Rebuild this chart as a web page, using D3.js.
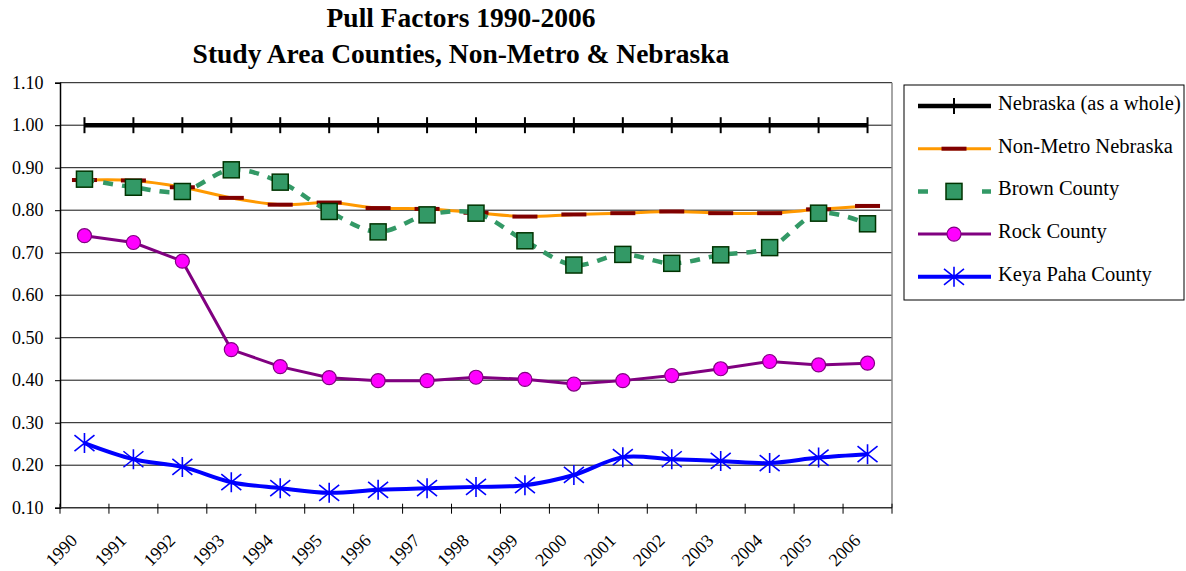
<!DOCTYPE html>
<html>
<head>
<meta charset="utf-8">
<script src="https://cdn.jsdelivr.net/npm/d3@7"></script>
<style>
  body { margin: 0; background: #fff; }
  svg text { font-family: 'Liberation Serif', 'Times New Roman', serif; fill: #000; }
</style>
</head>
<body>
<script>
// data
var years = ["1990","1991","1992","1993","1994","1995","1996","1997","1998",
             "1999","2000","2001","2002","2003","2004","2005","2006"];
var nebraska = [1,1,1,1,1,1,1,1,1,1,1,1,1,1,1,1,1];
var nonMetro = [0.871,0.870,0.854,0.829,0.813,0.818,0.805,0.803,0.794,0.785,0.790,0.793,0.797,0.793,0.793,0.802,0.810];
var brown    = [0.873,0.854,0.844,0.895,0.866,0.797,0.749,0.789,0.793,0.728,0.671,0.696,0.675,0.695,0.712,0.793,0.768];
var rock     = [0.740,0.724,0.680,0.472,0.432,0.406,0.399,0.399,0.407,0.402,0.391,0.399,0.411,0.427,0.444,0.436,0.440];
var keyaPaha = [0.252,0.214,0.196,0.160,0.146,0.135,0.142,0.146,0.149,0.153,0.177,0.219,0.214,0.210,0.205,0.218,0.226];
var yTicks = [0.1,0.2,0.3,0.4,0.5,0.6,0.7,0.8,0.9,1.0,1.1];
var titleLines = ["Pull Factors 1990-2006", "Study Area Counties, Non-Metro & Nebraska"];

var series = [
  {name: "Nebraska (as a whole)", values: nebraska, color: "#000000", width: 4.5, marker: "bar", curve: false},
  {name: "Non-Metro Nebraska", values: nonMetro, color: "#FF9900", width: 3, marker: "dash", curve: true},
  {name: "Brown County", values: brown, color: "#339966", width: 4.5, marker: "square", curve: true, dash: "10,9"},
  {name: "Rock County", values: rock, color: "#800080", width: 3, marker: "circle", curve: false},
  {name: "Keya Paha County", values: keyaPaha, color: "#0000FF", width: 4, marker: "star", curve: true}
];

var W = 1186, H = 571;
var plot = {left: 60, right: 892, top: 82.7, bottom: 507.7};

var svg = d3.select("body").append("svg")
  .attr("width", W)
  .attr("height", H);

var x = d3.scaleBand().domain(years).range([plot.left, plot.right]);
var y = d3.scaleLinear().domain([0.1, 1.1]).range([plot.bottom, plot.top]);
var cx = function(i) { return x(years[i]) + x.bandwidth() / 2; };

// title
svg.selectAll(".title")
  .data(titleLines)
  .enter().append("text")
  .attr("class", "title")
  .attr("x", 461)
  .attr("y", function(d, i) { return 27 + i * 36; })
  .attr("text-anchor", "middle")
  .style("font-size", "27.5px")
  .style("font-weight", "bold")
  .text(function(d) { return d; });

// gridlines
svg.append("g")
  .selectAll("line")
  .data(yTicks.filter(function(d) { return d > 0.1; }))
  .enter().append("line")
  .attr("x1", plot.left).attr("x2", plot.right)
  .attr("y1", function(d) { return y(d); })
  .attr("y2", function(d) { return y(d); })
  .attr("stroke", "#111")
  .attr("stroke-width", 1);

// right border of plot area
svg.append("line")
  .attr("x1", plot.right).attr("x2", plot.right)
  .attr("y1", plot.top).attr("y2", plot.bottom)
  .attr("stroke", "#888").attr("stroke-width", 1.5);

// y axis
var yAxis = d3.axisLeft(y)
  .tickValues(yTicks)
  .tickFormat(d3.format(".2f"))
  .tickSize(5)
  .tickPadding(11.5);
var gy = svg.append("g")
  .attr("transform", "translate(" + plot.left + ",0)")
  .call(yAxis);
gy.select(".domain").attr("stroke", "#000").attr("stroke-width", 1.5);
gy.selectAll(".tick line").attr("stroke", "#000");
gy.selectAll(".tick text").style("font-size", "18px");

// x axis - ticks between categories
var gx = svg.append("g")
  .attr("transform", "translate(0," + plot.bottom + ")");
gx.append("line")
  .attr("x1", plot.left).attr("x2", plot.right)
  .attr("stroke", "#333").attr("stroke-width", 1.5);
gx.selectAll(".xt")
  .data(years.concat(["end"]))
  .enter().append("line")
  .attr("class", "xt")
  .attr("x1", function(d, i) { return plot.left + i * x.bandwidth(); })
  .attr("x2", function(d, i) { return plot.left + i * x.bandwidth(); })
  .attr("y1", -4).attr("y2", 6)
  .attr("stroke", "#000");
gx.selectAll(".xl")
  .data(years)
  .enter().append("text")
  .attr("class", "xl")
  .attr("text-anchor", "end")
  .attr("transform", function(d) {
    return "translate(" + (x(d) + x.bandwidth() / 2 - 6) + ",34) rotate(-45)";
  })
  .style("font-size", "18px")
  .text(function(d) { return d; });

// lines
function lineFor(s) {
  return d3.line()
    .x(function(d, i) { return cx(i); })
    .y(function(d) { return y(d); })
    .curve(s.curve ? d3.curveCatmullRom.alpha(0.5) : d3.curveLinear);
}

function drawMarker(g, type) {
  if (type === "bar") {
    g.append("line").attr("y1", -8).attr("y2", 8)
      .attr("stroke", "#000").attr("stroke-width", 2);
  } else if (type === "dash") {
    g.append("rect").attr("x", -12.5).attr("y", -2).attr("width", 25).attr("height", 4)
      .attr("fill", "#800000");
  } else if (type === "square") {
    g.append("rect").attr("x", -8).attr("y", -8).attr("width", 16).attr("height", 16)
      .attr("fill", "#339966").attr("stroke", "#003300").attr("stroke-width", 1.5);
  } else if (type === "circle") {
    g.append("circle").attr("r", 7)
      .attr("fill", "#FF00FF").attr("stroke", "#800080").attr("stroke-width", 1.2);
  } else if (type === "star") {
    var r = 10;
    g.append("path")
      .attr("d", "M0," + (-r) + "V" + r +
                 "M" + (-r) + "," + (-r * 0.8) + "L" + r + "," + (r * 0.8) +
                 "M" + (-r) + "," + (r * 0.8) + "L" + r + "," + (-r * 0.8))
      .attr("stroke", "#0000FF").attr("stroke-width", 1.6).attr("fill", "none");
  }
}

series.forEach(function(s) {
  svg.append("path")
    .datum(s.values)
    .attr("fill", "none")
    .attr("stroke", s.color)
    .attr("stroke-width", s.width)
    .attr("stroke-dasharray", s.dash || null)
    .attr("d", lineFor(s));
  svg.append("g")
    .selectAll("g")
    .data(s.values)
    .enter().append("g")
    .attr("transform", function(d, i) { return "translate(" + cx(i) + "," + y(d) + ")"; })
    .each(function() { drawMarker(d3.select(this), s.marker); });
});

// legend
var legend = svg.append("g");
legend.append("rect")
  .attr("x", 904).attr("y", 85).attr("width", 280).attr("height", 215)
  .attr("fill", "#fff").attr("stroke", "#000").attr("stroke-width", 1);

var item = legend.selectAll(".item")
  .data(series)
  .enter().append("g")
  .attr("class", "item")
  .attr("transform", function(d, i) { return "translate(0," + (106 + i * 42.7) + ")"; });
item.append("line")
  .attr("x1", 918).attr("x2", 991)
  .attr("stroke", function(d) { return d.color; })
  .attr("stroke-width", function(d) { return d.width; })
  .attr("stroke-dasharray", function(d) { return d.dash ? "10,54" : null; });
item.append("g")
  .attr("transform", "translate(954,0)")
  .each(function(d) { drawMarker(d3.select(this), d.marker); });
item.append("text")
  .attr("x", 998).attr("y", 4)
  .style("font-size", "20.5px")
  .text(function(d) { return d.name; });
</script>
</body>
</html>
